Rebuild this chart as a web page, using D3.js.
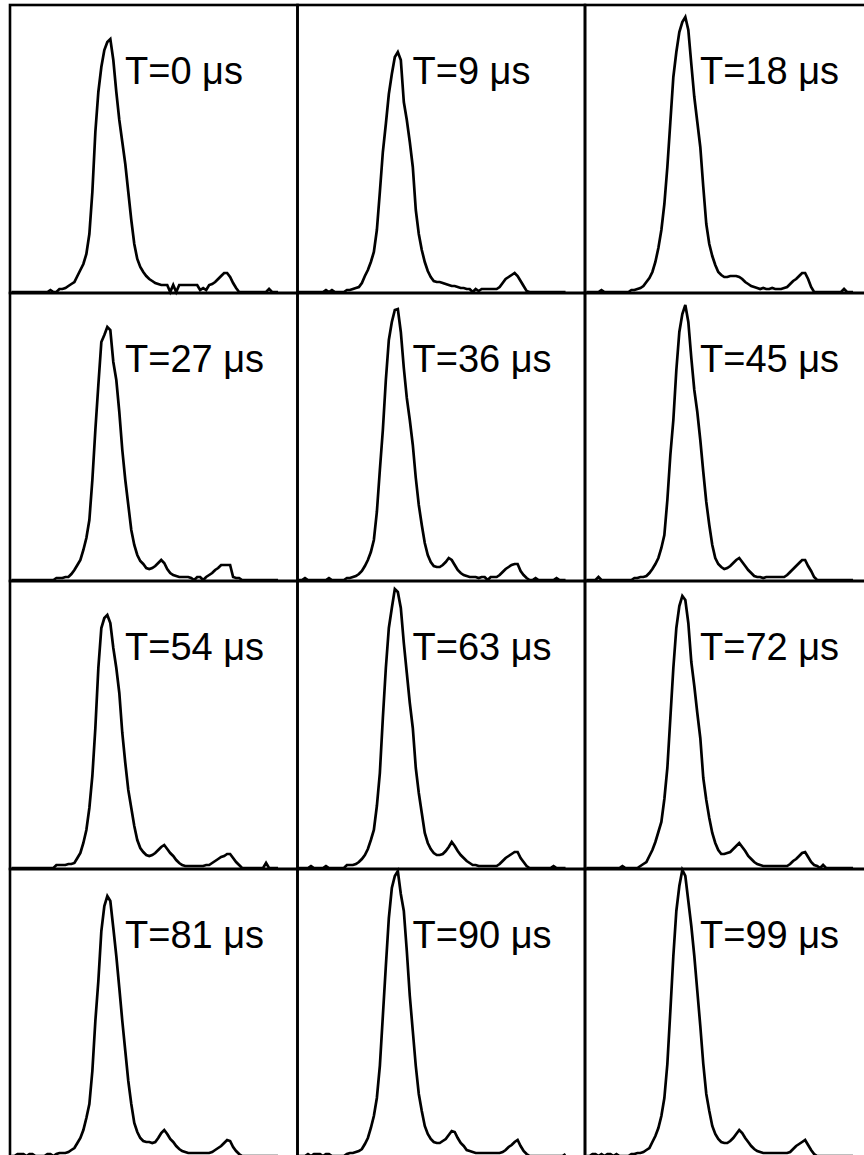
<!DOCTYPE html>
<html>
<head>
<meta charset="utf-8">
<script src="https://cdn.jsdelivr.net/npm/d3@7"></script>
<style>
  html, body { margin: 0; padding: 0; background: #fff; }
  svg { display: block; }
</style>
</head>
<body>
<svg id="chart" width="864" height="1155"></svg>
<script>
// Delay times for each spectrum, in microseconds (panel order: left-to-right, top-to-bottom)
const delayTimes = [0, 9, 18, 27, 36, 45, 54, 63, 72, 81, 90, 99];

// Number of channels spanned by one panel's horizontal axis
const channelCount = 96;
// Full-scale counts of one panel's vertical axis
const countMax = 288;

// Counts per channel (channel 0..89) for each delay time
const countsT0 = [
  0,0,0,0,0,0,0,0,0,0,
  0,0,0,2,0,0,3,3,4,6,
  8,10,16,22,28,38,58,100,160,200,
  225,242,250,253,232,200,172,150,128,100,
  72,48,33,25,20,16,13,11,9,8,
  7,7,7,0,7,0,7,7,7,7,
  7,7,7,2,4,2,7,8,10,13,
  16,19,19,15,9,4,0,0,0,0,
  0,0,0,0,0,0,3,0,0,0];
const countsT9 = [
  0,0,0,0,0,0,0,0,0,2,
  0,2,0,0,0,0,2,2,3,4,
  5,9,16,22,30,40,62,100,140,168,
  198,218,235,240,232,190,172,150,125,82,
  58,42,30,21,15,11,10,10,9,8,
  7,6,6,5,4,4,3,3,0,3,
  1,3,3,3,3,3,3,5,9,13,
  15,17,19,16,11,6,1,0,0,0,
  0,0,0,0,0,0,0,0,0,0];
const countsT18 = [
  0,0,0,0,0,2,0,0,0,0,
  0,0,0,0,0,2,2,3,4,6,
  10,14,20,30,44,62,88,125,170,215,
  240,260,270,275,262,228,195,170,145,105,
  68,48,36,27,20,17,15,15,16,16,
  16,15,13,10,8,6,5,4,3,4,
  3,3,4,3,3,3,4,5,8,11,
  13,16,19,19,13,5,0,0,0,0,
  0,0,0,0,0,0,3,0,0,0];
const countsT27 = [
  0,0,0,0,0,0,0,0,0,0,
  0,0,0,0,0,2,2,2,3,3,
  6,10,15,20,30,42,60,100,150,195,
  238,245,253,250,218,200,168,130,100,75,
  50,35,25,19,16,12,11,12,14,17,
  20,17,11,7,5,4,3,3,3,3,
  2,0,3,3,0,3,5,7,10,12,
  15,15,15,15,3,2,2,0,0,0,
  0,0,0,0,0,0,0,0,0,0];
const countsT36 = [
  0,0,2,0,0,0,0,0,0,0,
  2,0,0,0,0,0,2,2,3,4,
  6,9,14,20,28,40,68,110,150,200,
  240,258,270,271,248,212,182,160,135,102,
  75,55,37,25,18,14,13,13,15,18,
  22,20,15,10,7,5,4,3,3,3,
  2,3,3,0,3,3,3,5,8,11,
  13,15,16,16,9,5,2,0,0,2,
  0,0,0,0,0,0,2,0,0,0];
const countsT45 = [
  0,0,0,0,3,0,0,0,0,0,
  0,0,0,0,0,0,2,2,3,3,
  4,7,11,16,22,32,45,80,125,160,
  210,248,266,275,258,222,190,168,140,108,
  78,55,35,22,16,13,11,12,14,17,
  20,22,18,14,10,7,4,3,3,2,
  3,3,3,3,3,3,3,5,8,11,
  14,17,20,20,14,9,3,0,0,0,
  0,0,0,0,0,0,0,0,0,0];
const countsT54 = [
  0,0,0,0,0,0,0,0,0,0,
  0,0,0,0,0,3,3,3,3,4,
  4,5,10,15,25,38,60,92,140,200,
  240,250,253,245,220,200,175,135,105,78,
  60,42,28,20,16,13,12,13,15,18,
  21,23,19,15,12,8,5,3,2,2,
  2,2,2,2,2,3,3,5,7,9,
  11,12,14,14,10,6,3,0,0,0,
  0,0,0,0,0,5,0,0,0,0];
const countsT63 = [
  0,0,0,0,2,0,0,0,0,2,
  0,0,0,0,0,0,3,3,3,4,
  6,9,13,19,28,38,62,95,150,200,
  240,260,279,276,260,225,195,165,140,100,
  75,55,35,25,19,15,13,13,14,17,
  21,26,22,17,13,10,7,5,3,3,
  2,2,2,2,2,2,2,4,7,10,
  12,14,16,16,10,6,2,0,0,0,
  0,0,0,0,0,2,0,0,0,0];
const countsT72 = [
  0,0,0,0,0,0,0,0,0,0,
  0,0,2,0,0,0,0,0,2,4,
  6,12,18,26,36,46,69,100,150,200,
  240,262,272,268,245,206,182,155,130,90,
  68,50,35,25,18,14,14,15,16,19,
  22,25,21,17,12,9,6,4,3,2,
  2,2,2,2,2,2,2,2,4,7,
  9,12,15,16,11,6,3,2,0,3,
  0,0,0,0,0,0,0,0,0,0];
const countsT81 = [
  0,0,2,2,2,0,2,2,0,0,
  0,0,2,2,0,2,3,3,3,4,
  6,8,13,18,26,38,52,85,135,175,
  225,250,260,255,228,200,168,135,105,75,
  52,33,24,18,15,14,14,13,14,18,
  23,26,22,17,14,10,7,5,4,3,
  3,3,3,3,3,3,3,4,6,8,
  10,13,16,15,9,5,2,0,0,0,
  0,0,0,0,0,0,0,0,0,0];
const countsT90 = [
  0,0,0,2,0,2,2,2,0,2,
  2,0,0,0,0,0,2,3,3,4,
  5,7,12,18,28,40,58,90,140,190,
  238,268,280,285,262,245,205,160,125,90,
  62,45,30,22,17,14,13,13,15,17,
  21,25,24,18,13,10,6,5,4,3,
  3,3,3,3,3,3,3,3,4,6,
  9,11,14,16,10,5,2,0,0,0,
  0,0,0,0,0,0,0,0,0,2];
const countsT99 = [
  0,0,2,2,0,2,0,2,2,0,
  2,0,0,0,0,2,2,3,3,4,
  6,8,14,20,28,40,58,92,145,200,
  245,270,286,280,255,230,200,165,130,92,
  62,45,30,22,17,14,13,13,15,18,
  22,26,23,18,14,10,7,5,4,3,
  3,3,3,3,3,3,3,3,4,7,
  10,12,14,16,11,6,2,0,0,0,
  0,0,0,0,0,0,0,0,0,0];

const spectra = [countsT0, countsT9, countsT18, countsT27, countsT36, countsT45,
                 countsT54, countsT63, countsT72, countsT81, countsT90, countsT99];

// Grid layout: 3 columns x 4 rows of equal panels
const nCols = 3, nRows = 4;
const colScale = d3.scaleLinear().domain([0, nCols]).range([10, 872.5]);
const rowScale = d3.scaleLinear().domain([0, nRows]).range([5, 1157]);
const panelW = colScale(1) - colScale(0);
const panelH = rowScale(1) - rowScale(0);

// Within-panel scales: channel -> x, counts -> y
const x = d3.scaleLinear().domain([0, channelCount]).range([0, panelW]);
const y = d3.scaleLinear().domain([0, countMax]).range([panelH - 1, -1]);

// Trace through channel centres
const line = d3.line()
  .x((d, i) => x(i + 0.5))
  .y(d => y(d))
  .curve(d3.curveLinear);

const svg = d3.select("#chart");

const panels = svg.selectAll("g.panel")
  .data(spectra.map((counts, i) => ({ counts, t: delayTimes[i], col: i % nCols, row: Math.floor(i / nCols) })))
  .join("g")
  .attr("class", "panel")
  .attr("transform", d => `translate(${colScale(d.col)},${rowScale(d.row)})`);

// Spectrum trace
panels.append("path")
  .attr("d", d => line(d.counts))
  .attr("fill", "none")
  .attr("stroke", "#000")
  .attr("stroke-width", 2.7)
  .attr("stroke-linejoin", "miter");

// Panel frame
panels.append("rect")
  .attr("x", 0).attr("y", 0)
  .attr("width", panelW).attr("height", panelH)
  .attr("fill", "none")
  .attr("stroke", "#000")
  .attr("stroke-width", 2.6);

// Delay-time label
panels.append("text")
  .attr("x", 115)
  .attr("y", 79)
  .attr("font-family", "'Liberation Sans', Arial, Helvetica, sans-serif")
  .attr("font-size", 38)
  .attr("fill", "#000")
  .text(d => `T=${d.t} \u03bcs`);
</script>
</body>
</html>
